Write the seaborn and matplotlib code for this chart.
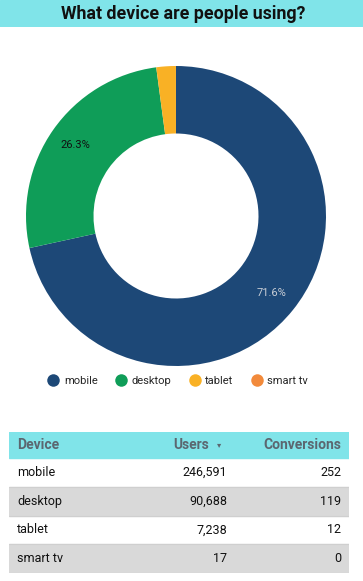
import matplotlib
matplotlib.use("Agg")
import matplotlib.pyplot as plt
from matplotlib.lines import Line2D
import seaborn as sns

devices = ["mobile", "desktop", "tablet", "smart tv"]
users = [246591, 90688, 7238, 17]
conversions = [252, 119, 12, 0]
colors = ["#1d4877", "#0f9d58", "#f9b125", "#f28a3b"]

sns.set_theme(style="white")
plt.rcParams["font.family"] = ["Roboto", "DejaVu Sans"]

W, H = 363, 581
fig = plt.figure(figsize=(W / 100, H / 100), dpi=100)


def px_axes(x0, y0, w, h):
    # place an axes using pixel coords measured from the top left
    return fig.add_axes([x0 / W, 1 - (y0 + h) / H, w / W, h / H])


# title band
tax = px_axes(0, 0, W, 27)
tax.axis("off")
tax.set_xlim(0, 1)
tax.set_ylim(0, 1)
tax.axhspan(0, 1, color="#80e4e9")
tax.text(0.505, 0.48, "What device are people using?", ha="center", va="center",
         fontsize=12.8, fontweight="bold", color="#111111")

# donut
ax = px_axes(26, 66, 300, 300)


def pct(p):
    return f"{p:.1f}%" if p > 5 else ""


wedges, _, autotexts = ax.pie(users, colors=colors, startangle=90, counterclock=False,
                              wedgeprops=dict(width=0.45, linewidth=0),
                              autopct=pct, pctdistance=0.82,
                              textprops=dict(fontsize=8))
autotexts[0].set_color("#c9ced6")
autotexts[1].set_color("#111111")
ax.set_xlim(-1, 1)
ax.set_ylim(-1, 1)
ax.set_aspect("equal")

handles = [Line2D([], [], marker="o", linestyle="", markersize=9,
                  markerfacecolor=c, markeredgewidth=0) for c in colors]
fig.legend(handles, devices, loc="center", bbox_to_anchor=(0.49, 1 - 381 / H),
           ncol=4, frameon=False, fontsize=8, handletextpad=0.45,
           columnspacing=1.6, handlelength=1.0)

# table
tb = px_axes(9, 432, 340, 141)
tb.axis("off")
tb.set_xlim(0, 340)
header_h, row_h = 26, 28.75
tb.set_ylim(header_h + row_h * len(devices), 0)
tb.axhspan(0, header_h, color="#80e4e9")
hc = "#5b6770"
tb.text(8, header_h / 2, "Device", ha="left", va="center", fontsize=10,
        fontweight="bold", color=hc)
tb.text(200, header_h / 2, "Users", ha="right", va="center", fontsize=10,
        fontweight="bold", color=hc)
tb.text(210, header_h / 2, "▾", ha="center", va="center", fontsize=6,
        color=hc, family=["DejaVu Sans"])
tb.text(332, header_h / 2, "Conversions", ha="right", va="center", fontsize=10,
        fontweight="bold", color=hc)
for i, (d, u, c) in enumerate(zip(devices, users, conversions)):
    top = header_h + i * row_h
    if i % 2 == 1:
        tb.axhspan(top, top + row_h, color="#d9d9d9")
    tb.axhline(top + row_h, color="#cfcfcf", linewidth=0.8)
    mid = top + row_h / 2
    tb.text(8, mid, d, ha="left", va="center", fontsize=9, color="#111111")
    tb.text(218, mid, f"{u:,}", ha="right", va="center", fontsize=9, color="#111111")
    tb.text(332, mid, f"{c:,}", ha="right", va="center", fontsize=9, color="#111111")

fig.savefig("out.png", dpi=100)
